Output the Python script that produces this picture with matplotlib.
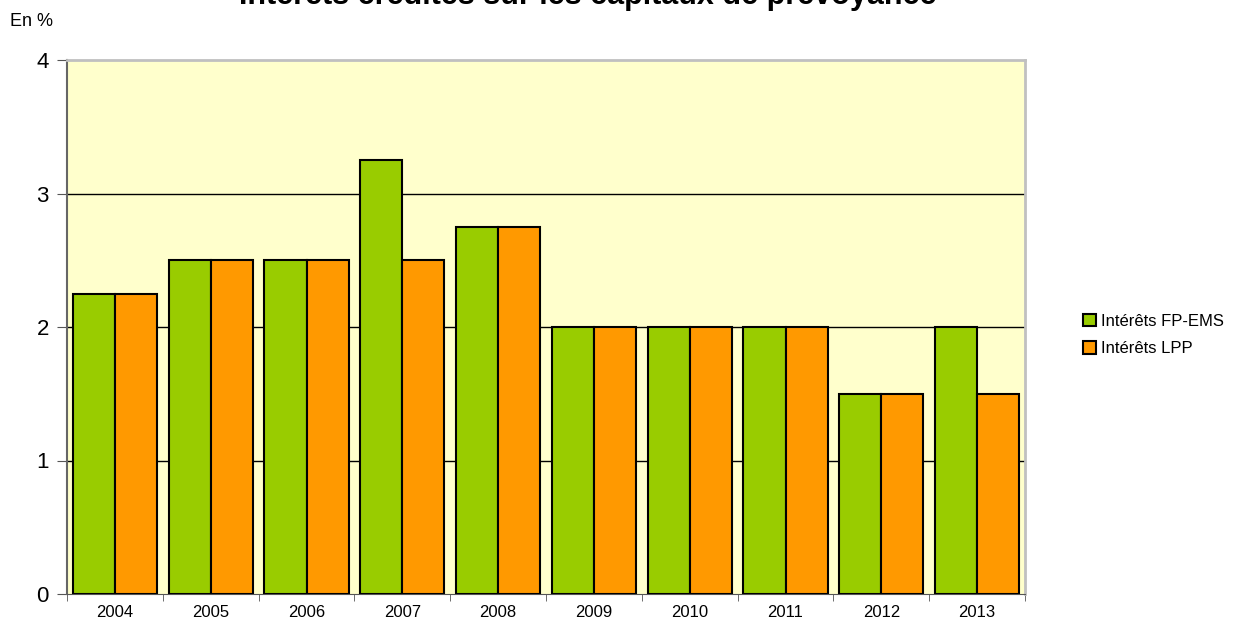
import numpy as np
import matplotlib.pyplot as plt

plt.rcParams['font.family'] = ['Liberation Sans', 'DejaVu Sans']

years = ['2004', '2005', '2006', '2007', '2008', '2009', '2010', '2011', '2012', '2013']
fp_ems = [2.25, 2.5, 2.5, 3.25, 2.75, 2.0, 2.0, 2.0, 1.5, 2.0]
lpp = [2.25, 2.5, 2.5, 2.5, 2.75, 2.0, 2.0, 2.0, 1.5, 1.5]

x = np.arange(len(years))
w = 0.44

fig = plt.figure(figsize=(12.34, 6.21), dpi=100)
ax = fig.add_axes([67/1234, 1-594/621, (1025-67)/1234, (594-60)/621])
ax.set_facecolor('#FFFFCC')

ax.bar(x - w/2, fp_ems, w, color='#99CC00', edgecolor='black', linewidth=1.5,
       label='Intérêts FP-EMS', zorder=3)
ax.bar(x + w/2, lpp, w, color='#FF9900', edgecolor='black', linewidth=1.5,
       label='Intérêts LPP', zorder=3)

ax.set_xlim(-0.5, len(years) - 0.5)
ax.set_ylim(0, 4)
ax.set_yticks([0, 1, 2, 3, 4])
# grid lines only at 1, 2, 3
for yv in [1, 2, 3]:
    ax.axhline(yv, color='black', linewidth=1, zorder=1)

ax.set_xticks(x)
ax.set_xticklabels(years, fontsize=12)
ax.set_xticks(np.arange(-0.5, len(years)), minor=True)
ax.tick_params(axis='x', which='major', length=0, pad=8)
ax.tick_params(axis='x', which='minor', length=5, color='#555555')
ax.tick_params(axis='y', labelsize=16, length=7, color='#555555', pad=6)

ax.spines['top'].set_color('#C0C0C0')
ax.spines['right'].set_color('#C0C0C0')
ax.spines['top'].set_linewidth(2)
ax.spines['right'].set_linewidth(2)
ax.spines['left'].set_color('#666666')
ax.spines['left'].set_linewidth(1.5)
ax.spines['bottom'].set_color('#555555')

fig.text(10/1234, 1-22/621, 'En %', fontsize=13, va='center', ha='left')
fig.text(588/1234, 1-4/621, 'Intérêts crédités sur les capitaux de prévoyance',
         fontsize=22, fontweight='bold', ha='center', va='baseline')

ax.legend(loc='center left', bbox_to_anchor=(1.045, 0.485), frameon=False,
          fontsize=12, handlelength=0.75, handleheight=0.75, handletextpad=0.3,
          labelspacing=0.75)

fig.savefig('out.png', dpi=100)
